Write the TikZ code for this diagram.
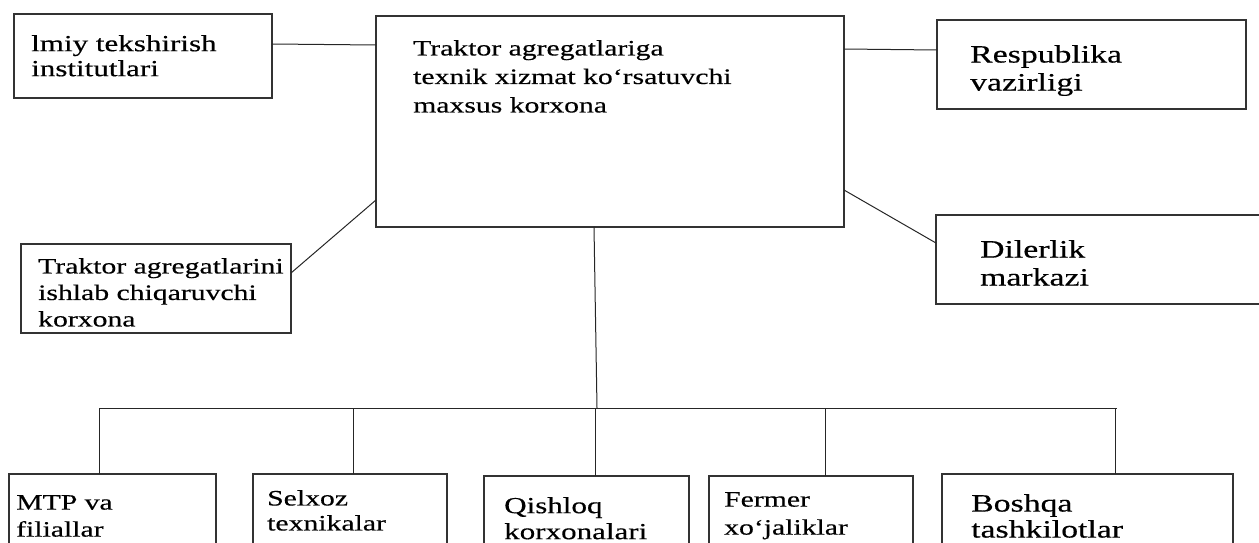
\documentclass[tikz,border=0pt]{standalone}
\usepackage{fontspec}
\setmainfont{Liberation Serif}[FakeStretch=1.35, FakeBold=0.4]
\usepackage{tikz}

\tikzset{
  box/.style={draw=black!80, line width=1.6pt, rectangle, inner sep=0pt, outer sep=0pt, anchor=north west},
  txt/.style={inner sep=0pt, anchor=north west, align=left, font=\fontsize{22}{27}\selectfont},
  bigtxt/.style={txt, font=\fontsize{25}{28}\selectfont},
  link/.style={draw=black!85, line width=1pt}
}

\begin{document}
\begin{tikzpicture}[x=1pt, y=-1pt]
      \useasboundingbox (0,0) rectangle (1259,543);
      \clip (0,0) rectangle (1259,543);
      % boxes
      \node[box, minimum width=258, minimum height=84] (ilmiy) at (14,14) {};
      \node[box, minimum width=468, minimum height=211] (main) at (376,16) {};
      \node[box, minimum width=309, minimum height=89] (resp) at (937,20) {};
      \node[box, minimum width=330, minimum height=89] (diler) at (936,215) {};
      \node[box, minimum width=270, minimum height=89] (trak) at (21,244) {};
      \node[box, minimum width=207, minimum height=100] (mtp) at (9,474) {};
      \node[box, minimum width=194, minimum height=100] (selxoz) at (253,474) {};
      \node[box, minimum width=205, minimum height=100] (qishloq) at (484,476) {};
      \node[box, minimum width=204, minimum height=100] (fermer) at (709,476) {};
      \node[box, minimum width=291, minimum height=100] (boshqa) at (942,474) {};
      % texts
      \node[txt, font=\fontsize{23}{25}\selectfont] (ilmiy-t) at (31,35) {lmiy tekshirish\\institutlari};
      \node[txt, font=\fontsize{22}{28.5}\selectfont] (main-t) at (413,40) {Traktor agregatlariga\\texnik xizmat ko‘rsatuvchi\\maxsus korxona};
      \node[bigtxt] (resp-t) at (970,45) {Respublika\\vazirligi};
      \node[bigtxt] (diler-t) at (980,240) {Dilerlik\\markazi};
      \node[txt, font=\fontsize{22}{26.5}\selectfont] (trak-t) at (38,258) {Traktor agregatlarini\\ishlab chiqaruvchi\\korxona};
      \node[txt] (mtp-t) at (16,495) {MTP va\\filiallar};
      \node[txt, font=\fontsize{22}{25}\selectfont] (selxoz-t) at (267,490) {Selxoz\\texnikalar};
      \node[txt, font=\fontsize{23}{26}\selectfont] (qishloq-t) at (504,497) {Qishloq\\korxonalari};
      \node[txt, font=\fontsize{22}{28}\selectfont] (fermer-t) at (724,492) {Fermer\\xo‘jaliklar};
      \node[txt, font=\fontsize{25}{26}\selectfont] (boshqa-t) at (971,494) {Boshqa\\tashkilotlar};
      % connectors
      \draw[link] (ilmiy.east |- 0,44) -- (main.west |- 0,45);
      \draw[link] (main.east |- 0,49) -- (resp.west |- 0,50);
      \draw[link] (trak.east |- 0,273) -- (main.west |- 0,200);
      \draw[link] (main.east |- 0,190) -- (diler.west |- 0,243);
      \coordinate (hub) at (597,408);
      \coordinate (busL) at (99,408);
      \coordinate (busR) at (1117,408);
      \draw[link] (main.south -| 594,0) -- (hub);
      \draw[link] (busL) -- (busR);
      \foreach \b/\x in {mtp/99, selxoz/353, qishloq/595, fermer/825, boshqa/1115}
        \draw[link] (\x,408) -- (\b.north -| \x,0);
\end{tikzpicture}
\end{document}
